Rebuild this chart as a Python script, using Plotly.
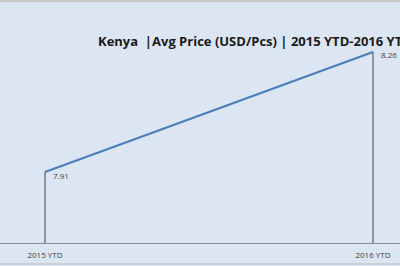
import plotly.graph_objects as go

categories = ["2015 YTD", "2016 YTD"]
avg_price = [7.91, 8.26]
price_labels = ["7.91", "8.26"]
title_text = "Kenya  |Avg Price (USD/Pcs) | 2015 YTD-2016 YTD"

W, H = 400, 266
y_axis_px, y_top_px = 243, 3
p1_px, p2_px = 172, 52
# scale derived from reading the picture
per_px = (avg_price[1] - avg_price[0]) / (p1_px - p2_px)
y_min = avg_price[0] - (y_axis_px - p1_px) * per_px
y_max = avg_price[1] + (p2_px - y_top_px) * per_px

x0_px, x1_px = 45, 373
unit = x1_px - x0_px
x_range = [-x0_px / unit, 1 + (W - x1_px) / unit]

fig = go.Figure()

for c, v in zip(categories, avg_price):
    fig.add_trace(go.Scatter(
        x=[c, c], y=[y_min, v], mode="lines",
        line=dict(color="#5f5f5f", width=1.2),
        hoverinfo="skip", showlegend=False))

fig.add_trace(go.Scatter(
    x=categories, y=avg_price, mode="lines",
    line=dict(color="#4a7ebb", width=2.2),
    showlegend=False))

annotations = [dict(
    x=c, y=v, xref="x", yref="y", text=t, showarrow=False,
    xanchor="left", yanchor="middle", xshift=7, yshift=-3, borderpad=0,
    font=dict(family="Open Sans, sans-serif", size=8, color="#404040"))
    for c, v, t in zip(categories, avg_price, price_labels)]

annotations.append(dict(
    text="<b>" + title_text + "</b>", xref="paper", yref="paper",
    x=97 / W, y=1 - 41 / H, xanchor="left", yanchor="middle",
    showarrow=False, borderpad=0,
    font=dict(family="Open Sans, sans-serif", size=13, color="#1a1a1a")))

fig.update_layout(
    width=W, height=H,
    margin=dict(l=0, r=0, t=0, b=0),
    paper_bgcolor="#dce6f2", plot_bgcolor="#dce6f2",
    xaxis=dict(type="category", range=x_range, showgrid=False, zeroline=False,
               showline=True, linecolor="#8c8c8c", linewidth=1,
               tickfont=dict(family="Open Sans, sans-serif", size=8, color="#404040"),
               ticks="", ticklabelstandoff=4, fixedrange=True),
    yaxis=dict(range=[y_min, y_max], domain=[1 - y_axis_px / H, 1 - y_top_px / H],
               visible=False, fixedrange=True),
    annotations=annotations,
    shapes=[
        dict(type="rect", xref="paper", yref="paper", x0=0, x1=1,
             y0=1 - 2 / H, y1=1, fillcolor="#c8c8c8", line=dict(width=0)),
        dict(type="line", xref="paper", yref="paper", x0=0, x1=1,
             y0=2 / H, y1=2 / H, line=dict(color="#c8c8c8", width=1.5)),
    ],
)

fig.write_html("out.html")
